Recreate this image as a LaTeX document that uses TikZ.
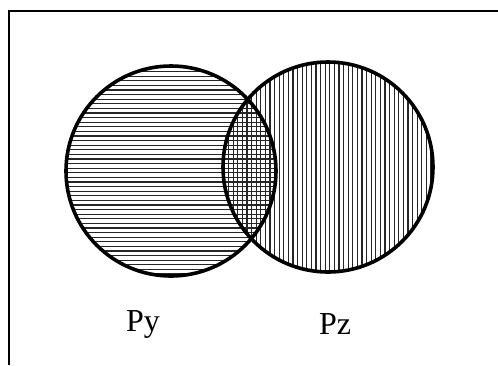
\documentclass[tikz,border=0pt]{standalone}
\usepackage{fontspec}
\setmainfont{Liberation Serif}
\begin{document}
\begin{tikzpicture}[
  x=1pt, y=-1pt,
  ring/.style={draw, line width=3.6pt},
  hatch/.style={line width=1.3pt, black!85},
  lbl/.style={font=\fontsize{32}{36}\selectfont}
]
  \useasboundingbox (0,0) rectangle (498,365);
  % frame (cut at right and bottom)
  \draw[line width=2pt] (9,365) -- (9,11) -- (498,11);

  \coordinate (cy) at (171,171);
  \coordinate (cz) at (328,167);

  % horizontal hatching of Py
  \begin{scope}
    \clip (cy) circle[radius=105pt];
    \foreach \k in {0,...,46}
      \draw[hatch] (60,67+4.6*\k) -- (290,67+4.6*\k);
  \end{scope}
  % vertical hatching of Pz
  \begin{scope}
    \clip (cz) circle[radius=105pt];
    \foreach \k in {0,...,46}
      \draw[hatch] (224+4.6*\k,55) -- (224+4.6*\k,280);
  \end{scope}

  \draw[ring] (cy) circle[radius=105pt];
  \draw[ring] (cz) circle[radius=105pt];

  \node[lbl] (py) at (143,324) {Py};
  \node[lbl] (pz) at (335,324) {Pz};
\end{tikzpicture}
\end{document}
